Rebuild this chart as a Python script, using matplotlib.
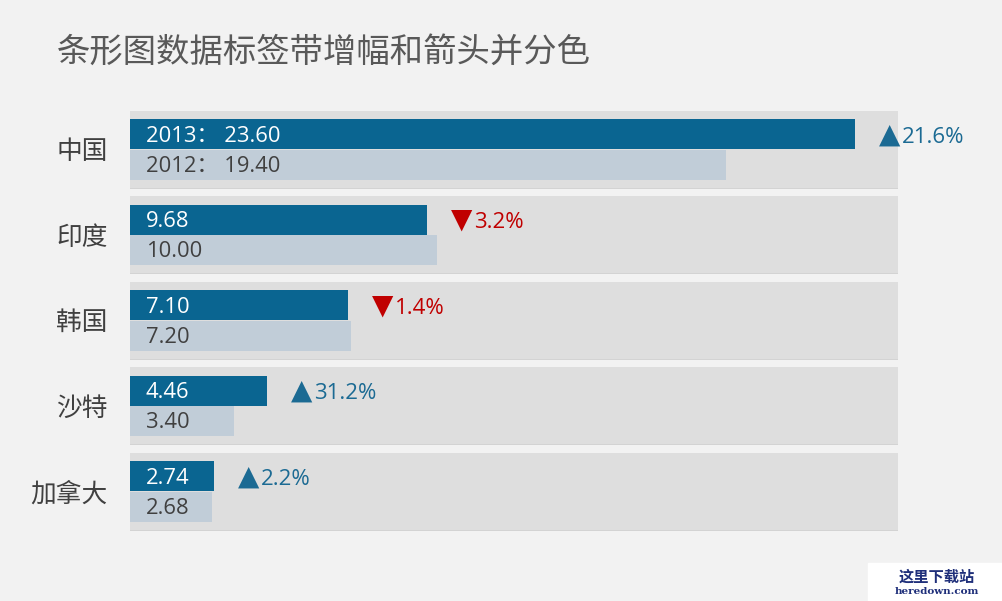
import matplotlib
matplotlib.use("Agg")
import matplotlib.pyplot as plt
import numpy as np

plt.rcParams['font.family'] = ['Open Sans', 'Noto Sans CJK SC', 'DejaVu Sans']

# data
countries = ['中国', '印度', '韩国', '沙特', '加拿大']
v2013 = [23.60, 9.68, 7.10, 4.46, 2.74]
v2012 = [19.40, 10.00, 7.20, 3.40, 2.68]

bg = '#f2f2f2'
band_c = '#dedede'
dark = '#0a6591'
light = '#c1cdd8'
up_c = '#1b6a93'
down_c = '#c00000'

fig = plt.figure(figsize=(10.02, 6.01), dpi=100, facecolor=bg)
ax = fig.add_axes([130 / 1002, 1 - 530.5 / 601, 768 / 1002, 420.5 / 601])
ax.set_facecolor(bg)

y = np.arange(len(countries))
xmax = 25
h = 0.35

# gray background bands with a faint bottom shadow
ax.barh(y + 0.012, xmax, height=0.90, color='#d3d3d3', zorder=0)
ax.barh(y, xmax, height=0.90, color=band_c, zorder=1)

ax.barh(y - h / 2, v2013, height=h, color=dark, zorder=2)
ax.barh(y + h / 2 + 0.005, v2012, height=h, color=light, zorder=2)

for i in range(len(countries)):
    a, b = v2013[i], v2012[i]
    lab_a = f'2013： {a:.2f}' if i == 0 else f'{a:.2f}'
    lab_b = f'2012： {b:.2f}' if i == 0 else f'{b:.2f}'
    ax.annotate(lab_a, (0, y[i] - h / 2), xytext=(16, -2), textcoords='offset pixels',
                va='center', ha='left', color='white', fontsize=15.8, weight='medium', zorder=3)
    ax.annotate(lab_b, (0, y[i] + h / 2), xytext=(16, -2), textcoords='offset pixels',
                va='center', ha='left', color='#404040', fontsize=15.8, zorder=3)
    pct = (a - b) / b * 100
    if pct >= 0:
        arrow, col = '▲', up_c
    else:
        arrow, col = '▼', down_c
    ax.annotate(arrow, (a, y[i] - h / 2), xytext=(24, 0), textcoords='offset pixels',
                va='center', ha='left', color=col, fontsize=20, family='DejaVu Sans',
                zorder=3, annotation_clip=False)
    ax.annotate(f'{abs(pct):.1f}%', (a, y[i] - h / 2), xytext=(47, -3), textcoords='offset pixels',
                va='center', ha='left', color=col, fontsize=16, zorder=3,
                annotation_clip=False)

ax.set_xlim(0, xmax)
ax.set_ylim(len(countries) - 0.54, -0.46)
ax.set_yticks(y)
ax.set_yticklabels(countries, fontsize=18.5, color='#404040', family='Noto Sans CJK SC')
ax.tick_params(axis='y', length=0, pad=16)
ax.set_xticks([])
for s in ax.spines.values():
    s.set_visible(False)

fig.text(57 / 1002, 1 - 52 / 601, '条形图数据标签带增幅和箭头并分色', fontsize=24,
         color='#595959', family='Noto Sans CJK SC', weight='light', va='center', ha='left')

# watermark in the corner
fig.patches.append(plt.Rectangle((868 / 1002, 0), 134 / 1002, 38 / 601,
                                 transform=fig.transFigure, color='white', zorder=0))
fig.text(0.935, 1 - 577 / 601, '这里下载站', fontsize=11, color='#1f2f7a', weight='bold',
         family='Noto Sans CJK SC', ha='center', va='center')
fig.text(0.935, 1 - 592 / 601, 'heredown.com', fontsize=7.5, color='#1f2f7a', weight='bold',
         family='DejaVu Serif', ha='center', va='center')

fig.savefig('out.png', dpi=100, facecolor=bg)
